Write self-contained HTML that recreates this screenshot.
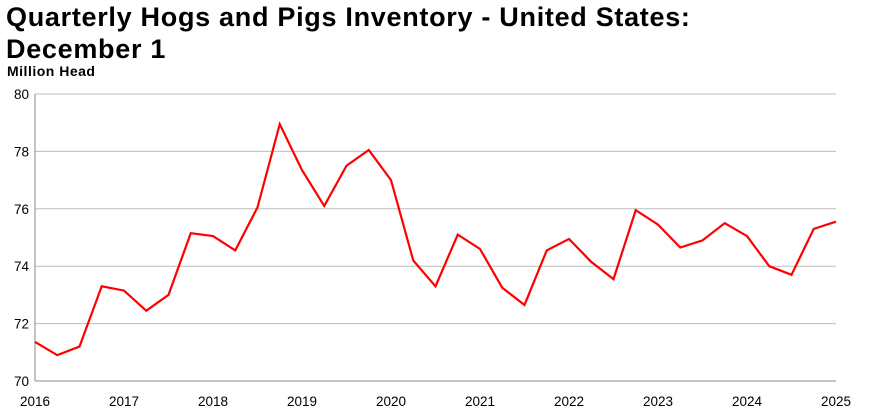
<!DOCTYPE html>
<html><head><meta charset="utf-8">
<style>
body{margin:0;background:#fff;width:873px;height:417px;overflow:hidden;font-family:"Liberation Sans",sans-serif;}
.title{position:absolute;left:6px;top:1px;font-weight:bold;font-size:27px;line-height:32px;color:#000;letter-spacing:0.7px}
.unit{position:absolute;left:7px;top:63px;font-weight:bold;font-size:14px;color:#000;letter-spacing:0.5px}
svg{position:absolute;left:0;top:0}
</style></head>
<body>
<div class="title">Quarterly Hogs and Pigs Inventory - United States:<br>December 1</div>
<div class="unit">Million Head</div>
<svg id="chart" width="873" height="417"></svg>
<script>
const yTicks=[70,72,74,76,78,80];
const xLabels=["2016","2017","2018","2019","2020","2021","2022","2023","2024","2025"];
const values=[71.36,70.9,71.2,73.3,73.15,72.45,73.0,75.15,75.05,74.55,76.05,78.95,77.35,76.1,77.5,78.05,77.0,74.2,73.3,75.1,74.6,73.25,72.65,74.55,74.95,74.15,73.55,75.95,75.45,74.65,74.9,75.5,75.05,74.0,73.7,75.3,75.55];
const svg=document.getElementById('chart');
const NS='http://www.w3.org/2000/svg';
const x0=35,x1=836,yTop=94,yBot=381;
const xs=i=>x0+(x1-x0)*i/(values.length-1);
const ys=v=>yBot-(v-70)/10*(yBot-yTop);
function mk(t,a){const e=document.createElementNS(NS,t);for(const k in a)e.setAttribute(k,a[k]);svg.appendChild(e);return e;}
yTicks.forEach(t=>{
 const l=mk('line',{x1:x0,x2:x1,y1:ys(t),y2:ys(t),stroke:t===70?'#888':'#bdbdbd','stroke-width':1});
 
 
 const tx=mk('text',{x:x0-6,y:ys(t)+5,'text-anchor':'end','font-size':13.5,fill:'#000','font-family':'Liberation Sans, sans-serif'});
 tx.textContent=t;
 
 
});
const ax=mk('line',{x1:x0,x2:x0,y1:yTop,y2:yBot,stroke:'#888','stroke-width':1});


xLabels.forEach((lab,i)=>{
 const tx=mk('text',{x:xs(i*4),y:406,'text-anchor':'middle','font-size':13.5,fill:'#000','font-family':'Liberation Sans, sans-serif'});
 tx.textContent=lab;
 
 
});
const p=mk('polyline',{points:values.map((v,i)=>xs(i)+','+ys(v)).join(' '),fill:'none',stroke:'#ff0000','stroke-width':2.2,'stroke-linejoin':'miter'});


</script>
</body></html>
